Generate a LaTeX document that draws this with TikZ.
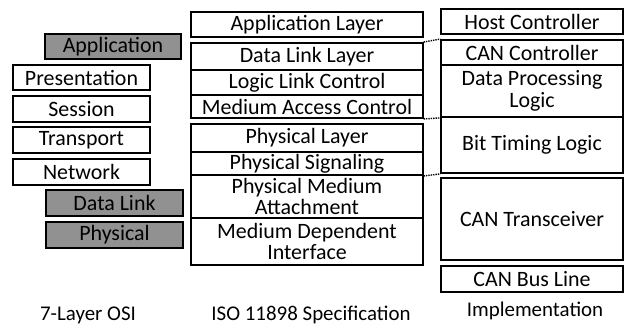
\documentclass[tikz,border=0pt]{standalone}
\usepackage{fontspec}
\setmainfont{Carlito}
\definecolor{osigray}{RGB}{145,145,145}
\tikzset{
	layerbox/.style={draw=black, line width=2pt, fill=white, inner sep=0pt,
		align=center, font=\fontsize{22}{22}\selectfont},
	osibox/.style={layerbox, fill=osigray},
	mapline/.style={densely dotted, line width=1.4pt},
	caption/.style={font=\fontsize{21}{22}\selectfont}
}
\begin{document}
\begin{tikzpicture}[x=1bp, y=-1bp]
	\useasboundingbox (0,0) rectangle (631,327);
	% 7-Layer OSI
	\node[osibox, minimum width=136, minimum height=25] (app) at (113, 46.5) {Application};
	\node[layerbox, minimum width=137, minimum height=25] (pres) at (81.5, 77.5) {Presentation};
	\node[layerbox, minimum width=137, minimum height=26] (sess) at (81.5, 109) {Session};
	\node[layerbox, minimum width=137, minimum height=26] (transp) at (81.5, 140) {Transport};
	\node[layerbox, minimum width=137, minimum height=26] (net) at (81.5, 172) {Network};
	\node[osibox, minimum width=137, minimum height=26] (dl) at (114.5, 203) {Data Link};
	\node[osibox, minimum width=137, minimum height=26] (phys) at (114.5, 235) {Physical};

	% ISO 11898
	\node[layerbox, minimum width=232, minimum height=25] (applayer) at (307, 24.5) {Application Layer};
	\node[layerbox, minimum width=232, minimum height=27] (dll) at (307, 56.5) {Data Link Layer};
	\node[layerbox, minimum width=232, minimum height=25] (llc) at (307, 82.5) {Logic Link Control};
	\node[layerbox, minimum width=232, minimum height=23] (mac) at (307, 106.5) {Medium Access Control};
	\node[layerbox, minimum width=232, minimum height=28] (phy) at (307, 138) {Physical Layer};
	\node[layerbox, minimum width=232, minimum height=23] (pls) at (307, 163.5) {Physical Signaling};
	\node[layerbox, minimum width=232, minimum height=43] (pma) at (307, 196.5) {Physical Medium\\Attachment};
	\node[layerbox, minimum width=232, minimum height=47] (mdi) at (307, 241.5) {Medium Dependent\\Interface};

	% Implementation
	\node[layerbox, minimum width=182, minimum height=25] (host) at (532, 21.5) {Host Controller};
	\node[layerbox, minimum width=182, minimum height=25] (canctrl) at (532, 52.5) {CAN Controller};
	\node[layerbox, minimum width=182, minimum height=52] (dpl) at (532, 91) {Data Processing\\Logic};
	\node[layerbox, minimum width=182, minimum height=56] (btl) at (532, 145) {Bit Timing Logic};
	\node[layerbox, minimum width=182, minimum height=82] (cantrans) at (532, 219) {CAN Transceiver};
	\node[layerbox, minimum width=182, minimum height=26] (bus) at (532, 279) {CAN Bus Line};

	% Zuordnung
	\draw[mapline] (dll.north east) -- (canctrl.north west);
	\draw[mapline] (mac.south east) -- (dpl.south west);
	\draw[mapline] (pls.south east) -- (btl.south west);

	% Beschriftungen unten
	\node[caption] (osicap) at (88, 315) {7-Layer OSI};
	\node[caption] (isocap) at (311, 315) {ISO 11898 Specification};
	\node[caption] (implcap) at (535, 311) {Implementation};
\end{tikzpicture}
\end{document}
